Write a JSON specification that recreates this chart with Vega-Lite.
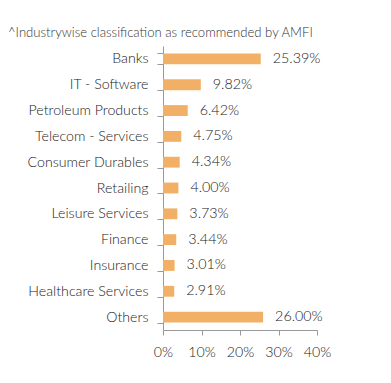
{
  "$schema": "https://vega.github.io/schema/vega-lite/v6.json",
  "autosize": "none",
  "width": 154,
  "height": 284,
  "padding": {"left": 163, "top": 46, "right": 74, "bottom": 53},
  "background": "white",
  "title": {
    "text": "^Industrywise classification as recommended by AMFI",
    "anchor": "start",
    "frame": "group",
    "dx": -155,
    "dy": 5,
    "offset": 4,
    "font": "Lato",
    "fontSize": 13.1,
    "fontWeight": 300,
    "color": "#333"
  },
  "data": {
    "values": [
      {"sector": "Banks", "value": 25.39},
      {"sector": "IT - Software", "value": 9.82},
      {"sector": "Petroleum Products", "value": 6.42},
      {"sector": "Telecom - Services", "value": 4.75},
      {"sector": "Consumer Durables", "value": 4.34},
      {"sector": "Retailing", "value": 4.00},
      {"sector": "Leisure Services", "value": 3.73},
      {"sector": "Finance", "value": 3.44},
      {"sector": "Insurance", "value": 3.01},
      {"sector": "Healthcare Services", "value": 2.91},
      {"sector": "Others", "value": 26.00}
    ]
  },
  "transform": [{"calculate": "format(datum.value, '.2f') + '%'", "as": "label"}],
  "encoding": {
    "y": {
      "field": "sector",
      "type": "nominal",
      "sort": null,
      "scale": {"paddingInner": 0.58, "paddingOuter": 0.29},
      "axis": {
        "title": null,
        "tickBand": "extent",
        "domainColor": "#999",
        "tickColor": "#999",
        "tickSize": 6,
        "labelFont": "Lato",
        "labelFontSize": 14.2,
        "labelFontWeight": 300,
        "labelColor": "#222",
        "labelPadding": 9
      }
    },
    "x": {
      "field": "value",
      "type": "quantitative",
      "scale": {"domain": [0, 40]},
      "axis": {
        "title": null,
        "values": [0, 10, 20, 30, 40],
        "grid": false,
        "labelExpr": "datum.value + '%'",
        "labelFlush": false,
        "domainColor": "#999",
        "tickColor": "#999",
        "tickSize": 5,
        "labelFont": "Lato",
        "labelFontSize": 14.2,
        "labelFontWeight": 300,
        "labelColor": "#222",
        "labelPadding": 10,
        "labelOverlap": false
      }
    }
  },
  "layer": [
    {"mark": {"type": "bar", "color": "#F2AF66"}},
    {
      "mark": {"type": "text", "align": "left", "dx": 12, "font": "Lato", "fontSize": 14.3, "fontWeight": 300, "color": "#222"},
      "encoding": {"text": {"field": "label"}}
    }
  ],
  "config": {"view": {"stroke": null}}
}
